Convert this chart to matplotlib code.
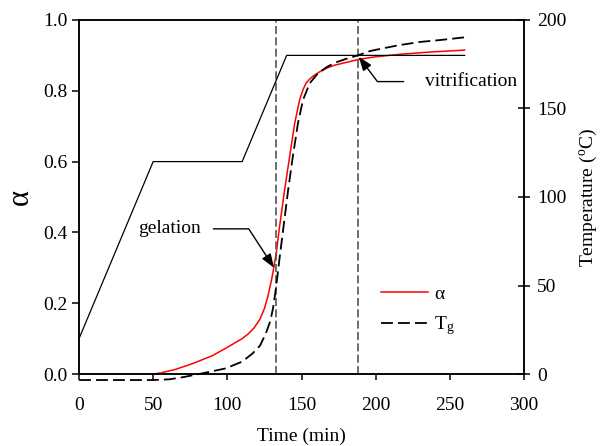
import matplotlib
matplotlib.use('Agg')
import matplotlib.pyplot as plt

plt.rcParams['font.family'] = ['Liberation Serif', 'DejaVu Serif']
plt.rcParams['mathtext.fontset'] = 'custom'
plt.rcParams['mathtext.rm'] = 'Liberation Serif'
plt.rcParams['mathtext.it'] = 'Liberation Serif:italic'

# cure temperature programme (min, degC)
cure_time = [0, 50, 110, 140, 260]
cure_temp = [20, 120, 120, 180, 180]

# degree of conversion alpha
alpha_time = [0, 50, 55, 65, 77, 90, 99, 110, 114, 118, 122, 125, 127.5, 130, 131.5,
              133, 135, 138.6, 142, 145.4, 148.7, 151, 153, 155.5, 157.7, 162, 167, 172,
              178, 189, 200, 216, 235, 260]
alpha_vals = [0, 0, 0.003, 0.013, 0.03, 0.052, 0.073, 0.10, 0.113, 0.13, 0.155, 0.185,
              0.222, 0.27, 0.305, 0.342, 0.41, 0.52, 0.614, 0.708, 0.774, 0.803, 0.821,
              0.833, 0.841, 0.853, 0.864, 0.872, 0.878, 0.889, 0.896, 0.903, 0.909, 0.915]

# glass transition temperature Tg (degC)
tg_time = [0, 50, 61, 70, 81, 90, 99, 110, 117, 122, 126, 129, 131, 133, 135.3, 138,
           141, 144, 147.6, 151, 155.5, 161, 167, 173, 180, 188, 196, 205, 216, 230, 245, 260]
tg_vals = [-3.4, -3.4, -3.0, -1.8, 0, 1.6, 3.2, 7.0, 11.6, 16, 23, 30, 38, 50, 66, 84,
           104, 122, 141.6, 154.8, 164.2, 169.8, 173.4, 176, 178, 180, 182.4, 184, 185.8,
           187.6, 188.8, 190.2]

t_gel = 133
t_vit = 188

fs = 14
fig = plt.figure(figsize=(6, 4.46), dpi=100)
ax = fig.add_axes([0.1317, 0.1614, 0.7416, 0.7938])
ax2 = ax.twinx()

l_alpha, = ax.plot(alpha_time, alpha_vals, color='red', lw=1.1, label='α')
ax2.plot(cure_time, cure_temp, color='black', lw=0.9)
l_tg, = ax2.plot(tg_time, tg_vals, color='black', lw=1.3, dashes=(6.6, 2.8),
                 clip_on=False, label='T$_{\\rm g}$')

for tv in (t_gel, t_vit):
    ax.axvline(tv, color='#555555', lw=1.2, dashes=(4.8, 2))

ax.set_xlim(0, 300)
ax.set_ylim(0, 1.0)
ax2.set_ylim(0, 200)
ax.set_xticks(range(0, 301, 50))
ax.set_yticks([0, 0.2, 0.4, 0.6, 0.8, 1.0])
ax.set_yticklabels(['0.0', '0.2', '0.4', '0.6', '0.8', '1.0'])
ax2.set_yticks(range(0, 201, 50))

ax.tick_params(axis='y', direction='out', length=5, width=1.1, pad=3, labelsize=fs)
ax.tick_params(axis='x', direction='out', length=4.3, width=1.1, pad=12, labelsize=fs)
ax2.tick_params(axis='y', direction='inout', length=8.6, width=1.1, pad=5, labelsize=fs)
for a in (ax, ax2):
    for sp in a.spines.values():
        sp.set_linewidth(1.1)

ax.set_xlabel('Time (min)', fontsize=fs, labelpad=10)
ax.set_ylabel('α', fontsize=22, labelpad=6)
ax2.set_ylabel('Temperature ($^{\\rm o}$C)', fontsize=fs, labelpad=8)

arrow_kw = dict(arrowstyle='-|>,head_length=0.6,head_width=0.22', color='black',
                lw=1.0, shrinkB=0)
ax.annotate('gelation', xy=(131.5, 0.30), xytext=(61, 0.41), ha='center', va='center',
            fontsize=fs,
            arrowprops=dict(connectionstyle='angle,angleA=0,angleB=-57,rad=0',
                            relpos=(1, 0.5), shrinkA=7, **arrow_kw))
ax.annotate('vitrification', xy=(188.6, 0.896), xytext=(233, 0.826), ha='left',
            va='center', fontsize=fs,
            arrowprops=dict(connectionstyle='angle,angleA=180,angleB=127,rad=0',
                            relpos=(0, 0.5), shrinkA=13, **arrow_kw))

ax2.legend([l_alpha, l_tg], ['α', 'T$_{\\rm g}$'], loc='upper left',
           bbox_to_anchor=(0.64, 0.30), frameon=False, fontsize=fs,
           handlelength=2.4, labelspacing=0.6, handletextpad=0.3)

fig.savefig('out.png', dpi=100)
